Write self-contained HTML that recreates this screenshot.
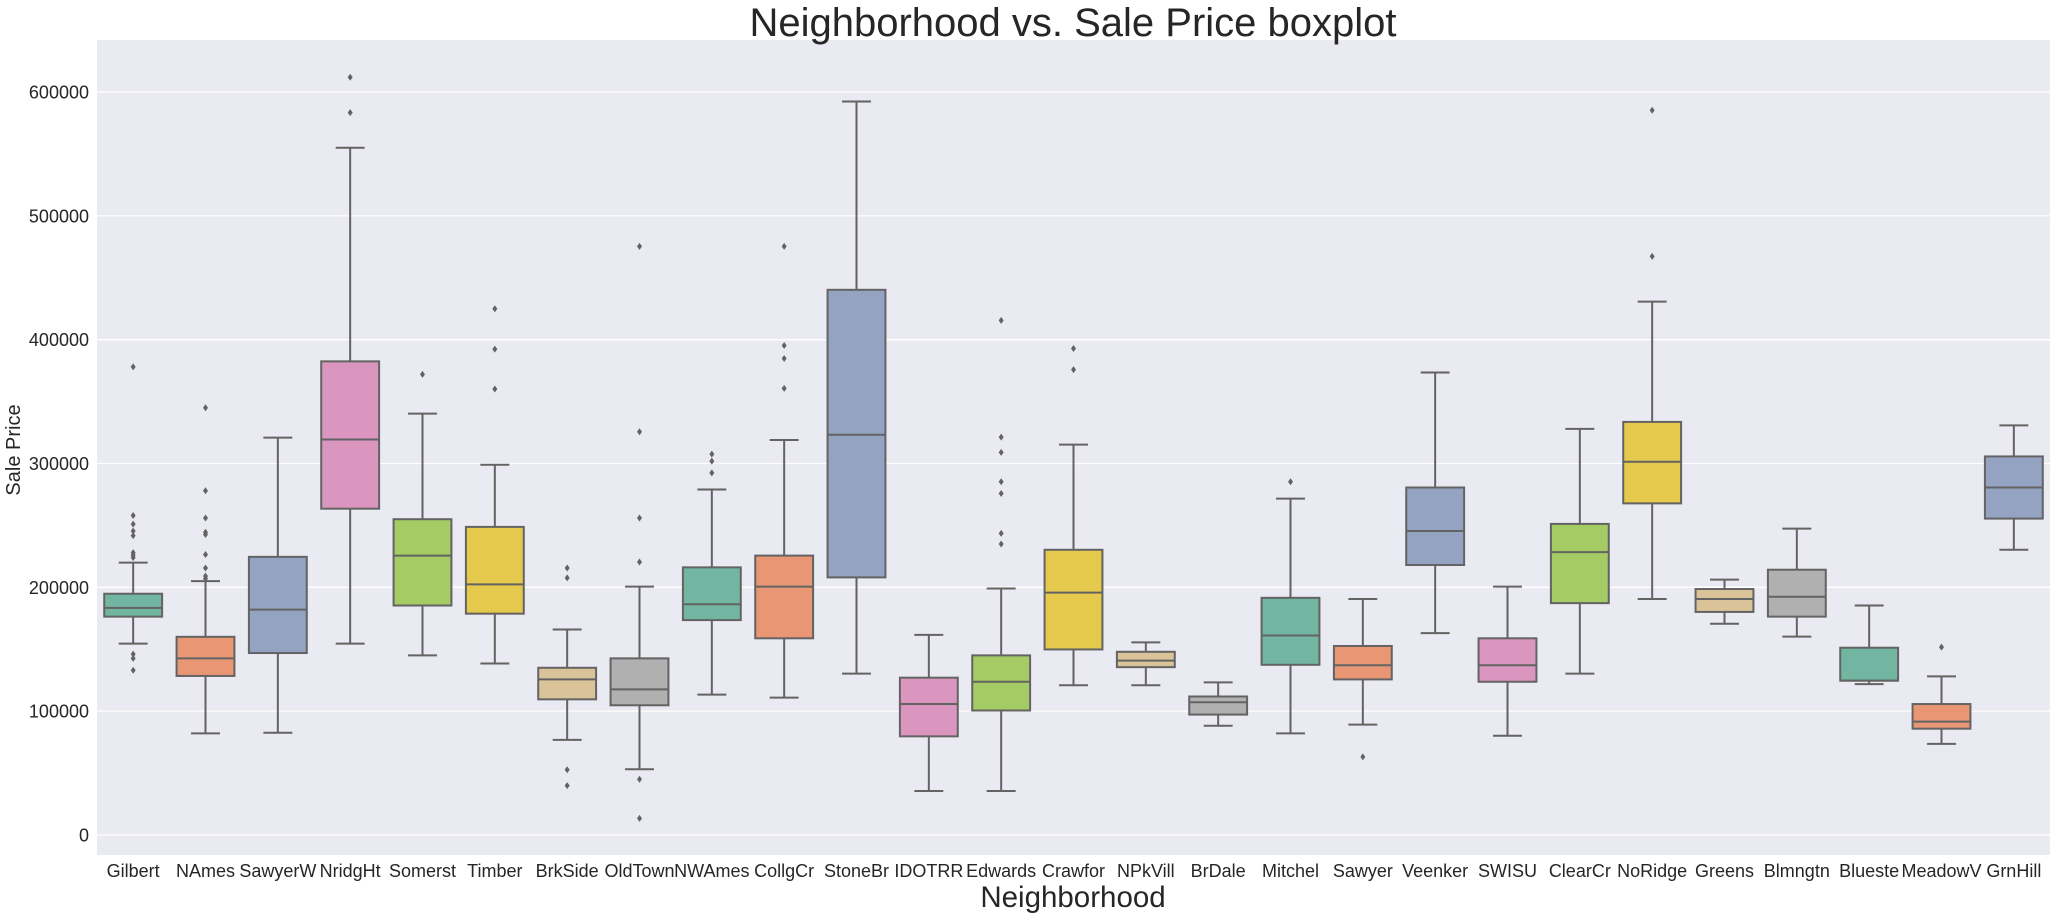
<!DOCTYPE html>
<html><head><meta charset="utf-8">
<style>
html,body{margin:0;padding:0;background:#fff;}
svg{display:block;font-family:"Liberation Sans",Arial,sans-serif;}
</style></head>
<body>
<svg id="chart" width="2057" height="920" viewBox="0 0 2057 920" xmlns="http://www.w3.org/2000/svg">
  <rect x="97" y="40" width="1953" height="815" fill="#eaeaf2"/>
  <g id="grid"></g>
  <g id="yticks"></g>
  <g id="boxes"></g>
  <g id="xticks"></g>
  <text x="1073" y="36" font-size="40" text-anchor="middle" fill="#262626">Neighborhood vs. Sale Price boxplot</text>
  <text x="1073" y="907" font-size="29.5" text-anchor="middle" fill="#262626">Neighborhood</text>
  <text x="0" y="0" font-size="20" text-anchor="middle" fill="#262626" transform="translate(20,450) rotate(-90)">Sale Price</text>
</svg>
<script>
const categories = ["Gilbert","NAmes","SawyerW","NridgHt","Somerst","Timber","BrkSide","OldTown","NWAmes","CollgCr","StoneBr","IDOTRR","Edwards","Crawfor","NPkVill","BrDale","Mitchel","Sawyer","Veenker","SWISU","ClearCr","NoRidge","Greens","Blmngtn","Blueste","MeadowV","GrnHill"];
const whiskerLow = [154500,82000,82500,154500,145000,138400,76800,53000,113300,110900,130300,35500,35500,120900,120900,88200,82000,89100,163000,80100,130300,190500,170600,160200,121800,73500,230300];
const q1 = [176300,128400,146900,263500,185300,178700,109500,104700,173500,158800,208000,79600,100500,149800,135500,97200,137400,125600,218000,123700,187200,267800,180100,176300,124600,85800,255500];
const median = [183400,142600,182000,319400,225600,202400,125600,117500,186300,200500,323200,105700,123700,195700,140800,107100,161100,137000,245500,137000,228400,301400,190500,192400,124600,91500,280600];
const q3 = [194800,160000,224600,382500,255000,248800,135000,142600,216100,225600,440300,127000,145000,230300,147900,111800,191500,152600,280600,158800,251200,333600,198600,214200,151200,105700,305700];
const whiskerHigh = [219900,205000,320900,555000,340300,299000,165900,200500,279000,319000,592400,161600,199000,315200,155500,123200,271600,190500,373500,200500,328000,430800,206200,247400,185300,128000,330800];
const outliers = [
  [378000,258000,251000,245500,241700,228000,226000,224000,146000,142600,133000],
  [345000,278000,256000,244500,242600,226500,215600,209000,207000],
  [],
  [612000,583400],
  [372000],
  [425000,392400,360200],
  [215600,207600,52600,39800],
  [475400,325600,256000,220400,45000,13300],
  [307600,301900,292400],
  [475400,395300,384800,360700],
  [],
  [],
  [415600,321300,309000,285300,275800,243600,235000],
  [392900,375800],
  [],
  [],
  [285300],
  [63000],
  [],
  [],
  [],
  [585300,467300],
  [],
  [],
  [],
  [151700],
  []
];
const yTicks = [0,100000,200000,300000,400000,500000,600000];
const palette = ["#72b6a1","#e99675","#95a3c3","#db96c0","#a4cb64","#e5c94c","#dac399","#b0b0b0"];

const NS="http://www.w3.org/2000/svg";
const plotL=97, plotR=2050, plotT=40, plotB=855;
const band=(plotR-plotL)/categories.length;
function yScale(v){return 834.9 - v*0.001238;}
function xScale(i){return plotL + band*(i+0.5);}
function mk(tag,attrs,parent){const e=document.createElementNS(NS,tag);for(const k in attrs)e.setAttribute(k,attrs[k]);parent.appendChild(e);return e;}

const grid=document.getElementById('grid'), yt=document.getElementById('yticks');
yTicks.forEach(function(t){
  const gl=mk('line',{x1:plotL,x2:plotR,y1:yScale(t),y2:yScale(t),stroke:'#ffffff','stroke-width':1.3},grid);
  
  
  const tx=mk('text',{x:89,y:yScale(t)+6.5,'font-size':18,'text-anchor':'end',fill:'#262626'},yt);
  tx.textContent=String(t);
  
  
});

const boxes=document.getElementById('boxes'), xt=document.getElementById('xticks');
const lc='#636363', lw=2;
categories.forEach(function(c,i){
  const cx=xScale(i), bw=band*0.8, cap=bw/2;
  const g=mk('g',{},boxes);
  
  
  mk('line',{x1:cx,x2:cx,y1:yScale(q3[i]),y2:yScale(whiskerHigh[i]),stroke:lc,'stroke-width':lw},g);
  mk('line',{x1:cx,x2:cx,y1:yScale(q1[i]),y2:yScale(whiskerLow[i]),stroke:lc,'stroke-width':lw},g);
  mk('line',{x1:cx-cap/2,x2:cx+cap/2,y1:yScale(whiskerHigh[i]),y2:yScale(whiskerHigh[i]),stroke:lc,'stroke-width':lw},g);
  mk('line',{x1:cx-cap/2,x2:cx+cap/2,y1:yScale(whiskerLow[i]),y2:yScale(whiskerLow[i]),stroke:lc,'stroke-width':lw},g);
  mk('rect',{x:cx-bw/2,y:yScale(q3[i]),width:bw,height:yScale(q1[i])-yScale(q3[i]),fill:palette[i%8],stroke:lc,'stroke-width':lw},g);
  mk('line',{x1:cx-bw/2,x2:cx+bw/2,y1:yScale(median[i]),y2:yScale(median[i]),stroke:lc,'stroke-width':lw},g);
  outliers[i].forEach(function(v){
    const y=yScale(v);
    const p=mk('polygon',{points:(cx)+','+(y-3.5)+' '+(cx+2.5)+','+y+' '+cx+','+(y+3.5)+' '+(cx-2.5)+','+y,fill:lc},g);
    
    
  });
  const tx=mk('text',{x:cx,y:877,'font-size':18,'text-anchor':'middle',fill:'#262626'},xt);
  tx.textContent=c;
  
  
});
</script>
</body></html>
